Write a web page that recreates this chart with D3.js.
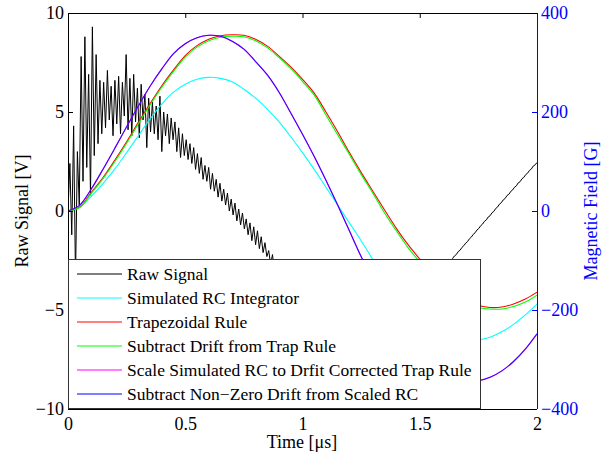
<!DOCTYPE html>
<html>
<head>
<meta charset="utf-8">
<script src="https://cdn.jsdelivr.net/npm/d3@7"></script>
<style>
  body { margin: 0; background: #fff; }
  svg { display: block; font-family: "Liberation Serif", "Times New Roman", serif; }
</style>
</head>
<body>
<svg id="chart" width="606" height="455"></svg>
<script>
// Probe voltage sampled every 8 ns, 0 to 2 μs
const rawStep = 0.008;
const rawSignal = [
  0.0, 2.4, -1.2, 4.3, -3.5, 3.0, 0.3, 7.8, 1.5, 8.8,
  2.2, 6.9, 0.8, 9.3, 2.8, 7.9, 3.4, 6.6, 3.9,
  6.5, 4.2, 7.1, 4.6, 6.3, 3.8, 6.6, 4.4, 6.8, 3.9,
  6.5, 4.8, 7.9, 4.1, 6.7, 3.8, 6.9, 4.5, 6.2, 3.7,
  6.4, 4.6, 5.9, 3.2, 5.7, 4.0, 5.5, 3.9, 5.3, 3.6,
  5.8, 3.0, 5.0, 3.8, 4.9, 3.4, 4.7, 3.6,
  4.5, 3.0, 4.2, 2.7, 3.9, 2.8, 3.6, 2.6, 3.4, 2.4,
  3.2, 2.1, 2.9, 1.9, 2.7, 1.6, 2.3, 1.5, 2.2, 1.1,
  1.9, 1.0, 1.6, 0.7, 1.4, 0.5, 1.1, 0.3, 0.9, 0.0,
  0.6, -0.2, 0.4, -0.5, 0.1, -0.7, -0.1, -0.9, -0.4, -1.2,
  -0.6, -1.5, -0.8, -1.7, -1.0, -1.9, -1.3, -2.1, -1.6, -2.3,
  -2.0, -2.7, -2.2, -3.0, -2.5, -3.2, -2.8, -3.4, -3.1, -3.7,
  -3.3, -3.9, -3.5, -4.0, -3.7, -4.2, -3.9, -4.4, -4.1, -4.6,
  -4.3, -4.7, -4.5, -4.9, -4.6, -5.0, -4.8, -5.2, -4.9, -5.3,
  -5.1, -5.4, -5.2, -5.5, -5.3, -5.6, -5.4, -5.7, -5.5, -5.8,
  -5.5, -5.8, -5.6, -5.8, -5.6, -5.9, -5.6, -5.8, -5.6, -5.8,
  -5.6, -5.8, -5.5, -5.7, -5.5, -5.7, -5.4, -5.6, -5.3, -5.5,
  -5.2, -5.4, -5.1, -5.3, -5.0, -5.2, -4.9, -5.0, -4.8, -4.9,
  -4.6, -4.8, -4.5, -4.7, -4.5, -4.6, -4.4, -4.5, -4.2, -4.3,
  -4.0, -4.1, -3.8, -3.9, -3.6, -3.7, -3.4, -3.5, -3.2, -3.3,
  -3.0, -3.1, -2.8, -2.95, -2.7, -2.75, -2.5, -2.55,
  -2.40, -2.27, -2.20, -2.05, -1.98, -1.84, -1.75, -1.62, -1.54, -1.40,
  -1.32, -1.18, -1.10, -0.96, -0.88, -0.74, -0.66, -0.52, -0.45, -0.30,
  -0.24, -0.09, -0.02, 0.13, 0.20, 0.35, 0.42, 0.56, 0.63, 0.78,
  0.84, 0.99, 1.06, 1.20, 1.27, 1.42, 1.48, 1.63, 1.70, 1.84,
  1.91, 2.05, 2.12, 2.27, 2.33, 2.45
];

// Field reconstructions [G], sampled every 50 ns
const fieldTime = d3.range(0, 2.0001, 0.05);
const simulatedRC = [0, 8, 30, 56, 85, 118, 152, 186, 216, 240, 256, 266, 270, 268, 261, 246, 228, 206, 180, 150,
  118, 84, 48, 12, -24, -60, -98, -132, -162, -188, -210, -229, -244, -254, -260, -260, -255, -244, -229, -210, -188];
const trapezoidal = [0, 8, 38, 68, 103, 140, 179, 217, 253, 285, 314, 334, 347, 354, 356, 355, 347, 333, 313, 291,
  266, 238, 200, 160, 118, 78, 40, 2, -35, -68, -97, -125, -150, -169, -183, -191, -195, -194, -188, -178, -164];
const driftCorrected = [0, 7, 36, 66, 100, 137, 176, 214, 250, 282, 311, 331, 344, 351, 353, 352, 344, 330, 310, 288,
  262, 234, 194, 154, 114, 74, 36, -4, -40, -74, -103, -130, -155, -174, -188, -195, -198, -198, -193, -184, -170];
const scaledRC = [0, 12, 45, 85, 127, 170, 212, 252, 287, 318, 338, 350, 355, 353, 343, 327, 302, 275, 240, 198,
  155, 110, 62, 12, -40, -92, -140, -185, -226, -262, -292, -315, -331, -341, -345, -343, -336, -323, -304, -279, -248];
const scaledRCNoDrift = [0, 12, 45, 85, 127, 170, 212, 252, 287, 318, 338, 350, 355, 353, 343, 327, 302, 275, 240, 198,
  155, 110, 62, 12, -40, -92, -140, -185, -226, -262, -292, -315, -331, -341, -345, -343, -336, -323, -304, -279, -248];

const timeTicks = [0, 0.5, 1, 1.5, 2];
const voltTicks = [-10, -5, 0, 5, 10];
const fieldTicks = [-400, -200, 0, 200, 400];

const legendNames = ["Raw Signal", "Simulated RC Integrator", "Trapezoidal Rule", "Subtract Drift from Trap Rule",
  "Scale Simulated RC to Drfit Corrected Trap Rule", "Subtract Non\u2212Zero Drift from Scaled RC"];
const legendColors = ["#000000", "#00ffff", "#ff0000", "#00ff00", "#ff00ff", "#0000ff"];

const svg = d3.select("#chart");
const L = 68, R = 537, T = 13, B = 409;
const x = d3.scaleLinear().domain([0, 2]).range([L, R]);
const yV = d3.scaleLinear().domain([-10, 10]).range([B, T]);
const yG = d3.scaleLinear().domain([-400, 400]).range([B, T]);
const fmt = d => String(d).replace("-", "\u2212");

svg.append("clipPath").attr("id", "plot").append("rect")
  .attr("x", L).attr("y", T).attr("width", R - L).attr("height", B - T);
const plot = svg.append("g").attr("clip-path", "url(#plot)");

// raw probe signal on the left axis
const rawLine = d3.line().x((d, i) => x(i * rawStep)).y(d => yV(d));
plot.append("path").datum(rawSignal).attr("d", rawLine)
  .attr("fill", "none").attr("stroke", "#000").attr("stroke-width", 1);

// integrated field curves on the right axis
const fieldLine = d3.line().x((d, i) => x(fieldTime[i])).y(d => yG(d)).curve(d3.curveCatmullRom);
const fieldSeries = [
  [simulatedRC, legendColors[1], 1],
  [trapezoidal, legendColors[2], 1],
  [driftCorrected, legendColors[3], 1],
  [scaledRC, legendColors[4], 1],
  [scaledRCNoDrift, legendColors[5], 0.75]
];
fieldSeries.forEach(([vals, col, op]) => {
  plot.append("path").datum(vals).attr("d", fieldLine)
    .attr("fill", "none").attr("stroke", col).attr("stroke-width", 1.1).attr("stroke-opacity", op);
});

// axes
function style(g, col) {
  g.select(".domain").remove();
  g.selectAll("line").attr("stroke", col);
  g.selectAll("text").attr("fill", col).style("font-size", "18px")
    .style("font-family", '"Liberation Serif", "Times New Roman", serif');
}
svg.append("g").attr("transform", `translate(${L},0)`)
  .call(d3.axisLeft(yV).tickValues(voltTicks).tickSizeInner(-5).tickSizeOuter(0).tickPadding(4).tickFormat(fmt))
  .call(g => style(g, "#000"));
svg.append("g").attr("transform", `translate(0,${B})`)
  .call(d3.axisBottom(x).tickValues(timeTicks).tickSizeInner(-5).tickSizeOuter(0).tickPadding(8).tickFormat(fmt))
  .call(g => style(g, "#000"));
svg.append("g").attr("transform", `translate(0,${T})`)
  .call(d3.axisTop(x).tickValues(timeTicks).tickSizeInner(-5).tickSizeOuter(0).tickFormat(""))
  .call(g => style(g, "#000"));
svg.append("g").attr("transform", `translate(${R},0)`)
  .call(d3.axisRight(yG).tickValues(fieldTicks).tickSizeInner(-5).tickSizeOuter(0).tickPadding(4).tickFormat(fmt))
  .call(g => style(g, "#0000ff"));

// frame
svg.append("path").attr("d", `M${R},${T}H${L}V${B}H${R}`)
  .attr("fill", "none").attr("stroke", "#000").attr("stroke-width", 1).attr("shape-rendering", "crispEdges");
svg.append("line").attr("x1", R).attr("x2", R).attr("y1", T).attr("y2", B)
  .attr("stroke", "#0000ff").attr("stroke-width", 1).attr("shape-rendering", "crispEdges");

// legend
const lg = svg.append("g");
lg.append("rect").attr("x", 68.5).attr("y", 259.5).attr("width", 412).attr("height", 149)
  .attr("fill", "#fff").attr("stroke", "#333").attr("stroke-width", 1);
legendNames.forEach((name, i) => {
  const yy = 274 + i * 24;
  lg.append("line").attr("x1", 77).attr("x2", 122).attr("y1", yy).attr("y2", yy)
    .attr("stroke", legendColors[i]).attr("stroke-width", 1);
  lg.append("text").attr("x", 127).attr("y", yy).attr("dy", "0.35em")
    .style("font-size", "17.5px").attr("fill", "#000").text(name);
});

// axis titles
svg.append("text").attr("transform", "translate(28,211) rotate(-90)")
  .attr("text-anchor", "middle").style("font-size", "18px").attr("fill", "#000").text("Raw Signal [V]");
svg.append("text").attr("transform", "translate(597,211) rotate(-90)")
  .attr("text-anchor", "middle").style("font-size", "18px").attr("fill", "#0000ff").text("Magnetic Field [G]");
svg.append("text").attr("x", 302).attr("y", 448)
  .attr("text-anchor", "middle").style("font-size", "18px").attr("fill", "#000").text("Time [\u03bcs]");
</script>
</body>
</html>
